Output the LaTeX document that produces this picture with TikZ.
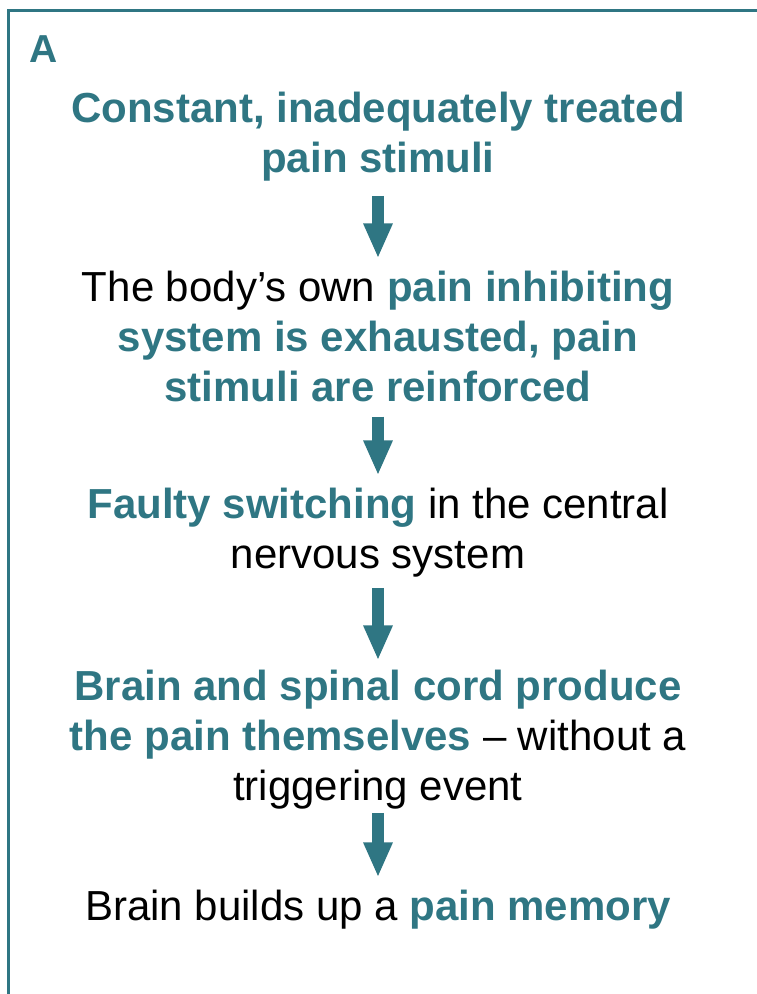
\documentclass[tikz,border=0pt]{standalone}
\usepackage{fontspec}
\setmainfont{Liberation Sans}
\usepackage{xcolor}
\usetikzlibrary{arrows.meta}

\definecolor{painteal}{RGB}{47,118,131}
\newcommand{\hl}[1]{\textbf{\color{painteal}#1}}

\begin{document}
\begin{tikzpicture}[x=1pt, y=1pt,
  stage/.style={align=center, inner sep=0pt, anchor=base, font=\fontsize{42}{50}\selectfont},
  flow/.style={-{Triangle[width=27pt, length=35pt]}, line width=12pt, draw=painteal, shorten <=15pt, shorten >=12pt},
  frame/.style={draw=painteal, line width=3pt}
]
  \useasboundingbox (0,0) rectangle (757,-994);

  % Panel frame, open to the right and bottom
  \draw[frame] (8,-994) -- (8,-10) -- (757,-10);

  % Panel letter
  \node[anchor=base west, inner sep=0pt, font=\fontsize{39}{40}\selectfont\bfseries, text=painteal] (lbl) at (29,-62) {A};

  % Stages of the chain (anchored at the last line)
  \node[stage] (s1) at (378,-172) {\hl{Constant, inadequately treated}\\ \hl{pain stimuli}};
  \node[stage] (s2) at (378,-401) {The body’s own \hl{pain inhibiting}\\ \hl{system is exhausted, pain}\\ \hl{stimuli are reinforced}};
  \node[stage] (s3) at (378,-568) {\hl{Faulty switching} in the central\\ nervous system};
  \node[stage] (s4) at (378,-800) {\hl{Brain and spinal cord produce}\\ \hl{the pain themselves} – without a\\ triggering event};
  \node[stage] (s5) at (378,-920) {Brain builds up a \hl{pain memory}};

  % Arrows between stages
  \draw[flow] (s1.south) -- (s2.north);
  \draw[flow] (s2.south) -- (s3.north);
  \draw[flow, shorten <=11pt, shorten >=9pt] (s3.south) -- (s4.north);
  \draw[flow, shorten <=4pt] (s4.south) -- (s5.north);
\end{tikzpicture}
\end{document}
